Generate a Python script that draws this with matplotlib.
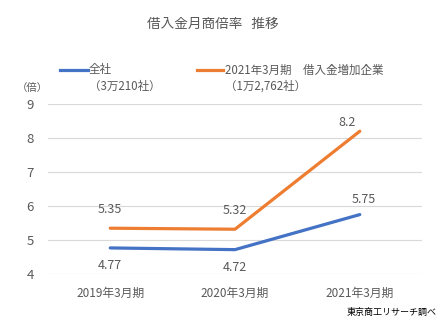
import matplotlib.pyplot as plt
from matplotlib.lines import Line2D

plt.rcParams['font.family'] = ['Noto Sans CJK JP', 'DejaVu Sans']

categories = ["2019年3月期", "2020年3月期", "2021年3月期"]
all_firms = [4.77, 4.72, 5.75]
borrow_up = [5.35, 5.32, 8.2]
name_all = "全社"
count_all = "（3万210社）"
name_up = "2021年3月期　借入金増加企業"
count_up = "（1万2,762社）"

grey = "#595959"
blue = "#4472C4"
orange = "#ED7D31"

W, H = 443, 321
fig = plt.figure(figsize=(W / 100, H / 100), dpi=100)
ax = fig.add_axes([0.108, 0.146, 0.845, 0.530])

x = list(range(len(categories)))
ax.plot(x, all_firms, color=blue, lw=2.3, solid_capstyle="round")
ax.plot(x, borrow_up, color=orange, lw=2.3, solid_capstyle="round")

# data labels
for i, v in enumerate(all_firms):
    off = (4, 15) if i == 2 else (0, -18)
    ax.annotate(f"{v:g}", (i, v), xytext=off, textcoords="offset pixels",
                ha="center", va="center", fontsize=9, color=grey)
for i, v in enumerate(borrow_up):
    off = (-13, 9) if i == 2 else (0, 19)
    ax.annotate(f"{v:g}", (i, v), xytext=off, textcoords="offset pixels",
                ha="center", va="center", fontsize=9, color=grey)

ax.set_xlim(-0.5, 2.5)
ax.set_ylim(4, 9)
ax.set_yticks(range(4, 10))
ax.set_xticks(x)
ax.set_xticklabels(categories)
ax.tick_params(length=0, colors=grey, labelsize=8.5)
ax.tick_params(axis="y", labelsize=9.5, pad=10)
ax.tick_params(axis="x", pad=9)
ax.grid(axis="y", color="#D9D9D9", lw=0.8)
ax.set_axisbelow(True)
for s in ax.spines.values():
    s.set_visible(False)

fig.text(0.48, 0.925, "借入金月商倍率   推移", ha="center", va="center",
         fontsize=9.8, color=grey)
fig.text(0.072, 0.725, "（倍）", ha="center", va="center", fontsize=7.5, color=grey)
fig.text(0.985, 0.028, "東京商工リサーチ調べ", ha="right", va="center",
         fontsize=6.5, color="black")

# legend drawn by hand: handle on the first text line
def fx(px):
    return px / W

def fy(py):
    return 1 - py / H

for (x0, x1, tx), col, name, cnt in [((60, 88, 89), blue, name_all, count_all),
                                      ((197, 223, 225), orange, name_up, count_up)]:
    fig.add_artist(Line2D([fx(x0), fx(x1)], [fy(70), fy(70)], color=col, lw=2.3,
                          transform=fig.transFigure))
    fig.text(fx(tx), fy(70), name, ha="left", va="center", fontsize=8.3, color=grey)
    fig.text(fx(tx), fy(86), cnt, ha="left", va="center", fontsize=8.3, color=grey)

fig.savefig("out.png", dpi=100)
